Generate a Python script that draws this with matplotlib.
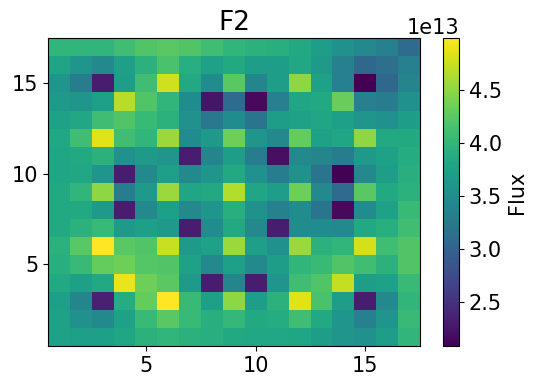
import numpy as np
import matplotlib
matplotlib.use("Agg")
import matplotlib.pyplot as plt

# Flux values (units of 1e13), rows from y=17 (top) down to y=1 (bottom), columns x=1..17
rows_top_to_bottom = [
    [4.0, 4.0, 4.0, 4.1, 4.2, 4.25, 4.2, 4.1, 4.0, 3.95, 3.9, 3.85, 3.7, 3.55, 3.45, 3.35, 3.1],   # y=17
    [3.78, 3.6, 3.45, 3.72, 3.95, 4.15, 3.9, 3.75, 3.85, 3.7, 3.7, 3.82, 3.65, 3.35, 3.05, 3.15, 3.35],  # 16
    [3.6, 3.3, 2.3, 3.7, 4.1, 4.78, 3.85, 3.5, 4.25, 3.4, 3.7, 4.5, 3.75, 3.35, 2.08, 3.05, 3.4],  # 15
    [3.65, 3.6, 3.72, 4.68, 4.2, 4.0, 3.5, 2.25, 3.1, 2.15, 3.35, 3.8, 3.85, 4.33, 3.35, 3.3, 3.55],  # 14
    [3.75, 3.82, 4.1, 4.2, 4.05, 3.95, 3.55, 3.25, 3.5, 3.2, 3.7, 3.75, 3.8, 3.72, 3.6, 3.55, 3.7],  # 13
    [3.82, 4.1, 4.85, 4.1, 4.0, 4.55, 3.5, 3.65, 4.35, 3.6, 3.45, 4.3, 3.75, 3.8, 4.5, 3.85, 3.85],  # 12
    [3.8, 3.85, 3.95, 3.55, 3.65, 3.6, 2.3, 3.4, 3.7, 3.3, 2.2, 3.45, 3.4, 3.3, 3.65, 3.75, 3.88],  # 11
    [3.8, 3.82, 3.6, 2.3, 3.45, 3.72, 3.45, 3.6, 3.85, 3.55, 3.3, 3.55, 3.2, 2.1, 3.45, 3.7, 3.9],  # 10
    [3.85, 4.0, 4.5, 3.3, 3.65, 4.55, 3.8, 3.85, 4.65, 3.8, 3.7, 4.35, 3.45, 3.1, 4.25, 3.85, 3.95],  # 9
    [3.85, 3.85, 3.65, 2.3, 3.45, 3.72, 3.45, 3.6, 3.9, 3.55, 3.35, 3.5, 3.2, 2.15, 3.5, 3.75, 4.05],  # 8
    [3.85, 3.95, 4.05, 3.65, 3.72, 3.65, 2.3, 3.5, 3.85, 3.45, 2.3, 3.5, 3.5, 3.45, 3.85, 3.9, 4.1],  # 7
    [3.95, 4.25, 4.99, 4.25, 4.2, 4.75, 3.65, 3.75, 4.55, 3.72, 3.55, 4.55, 3.95, 4.0, 4.8, 4.1, 4.2],  # 6
    [3.9, 4.05, 4.3, 4.35, 4.22, 4.2, 3.75, 3.45, 3.72, 3.45, 3.7, 4.0, 4.05, 4.2, 4.1, 3.95, 4.2],  # 5
    [3.85, 3.72, 3.85, 4.9, 4.35, 4.25, 3.65, 2.3, 3.4, 2.3, 3.6, 4.1, 4.2, 4.72, 3.7, 3.75, 4.05],  # 4
    [3.72, 3.4, 2.35, 3.88, 4.3, 4.99, 4.05, 3.72, 4.5, 3.7, 3.95, 4.85, 4.15, 3.7, 2.3, 3.45, 4.0],  # 3
    [3.75, 3.55, 3.45, 3.75, 4.05, 4.25, 4.05, 3.9, 4.02, 3.85, 3.88, 4.1, 3.85, 3.6, 3.35, 3.6, 4.05],  # 2
    [3.75, 3.72, 3.72, 3.8, 3.95, 4.0, 3.95, 3.9, 3.85, 3.82, 3.82, 3.8, 3.7, 3.6, 3.55, 3.7, 4.0],  # 1
]
scale = 1e13
title = "F2"
cbar_label = "Flux"

data = np.array(rows_top_to_bottom)[::-1] * scale  # row 0 -> y=1

fig = plt.figure(figsize=(5.42, 3.89), dpi=100)
ax = fig.add_axes([48/542, 43/389, 372/542, 308/389])
cax = fig.add_axes([443/542, 43/389, 16/542, 308/389])

im = ax.imshow(data, origin="lower", extent=(0.5, 17.5, 0.5, 17.5),
               aspect="auto", cmap="viridis", interpolation="nearest")
ax.set_title(title, fontsize=19)
ax.set_xticks([5, 10, 15])
ax.set_yticks([5, 10, 15])
ax.tick_params(labelsize=15)

cb = fig.colorbar(im, cax=cax)
cb.set_label(cbar_label, fontsize=15)
cb.ax.tick_params(labelsize=15)
cb.ax.yaxis.get_offset_text().set_fontsize(15)

fig.savefig("out.png", dpi=100)
